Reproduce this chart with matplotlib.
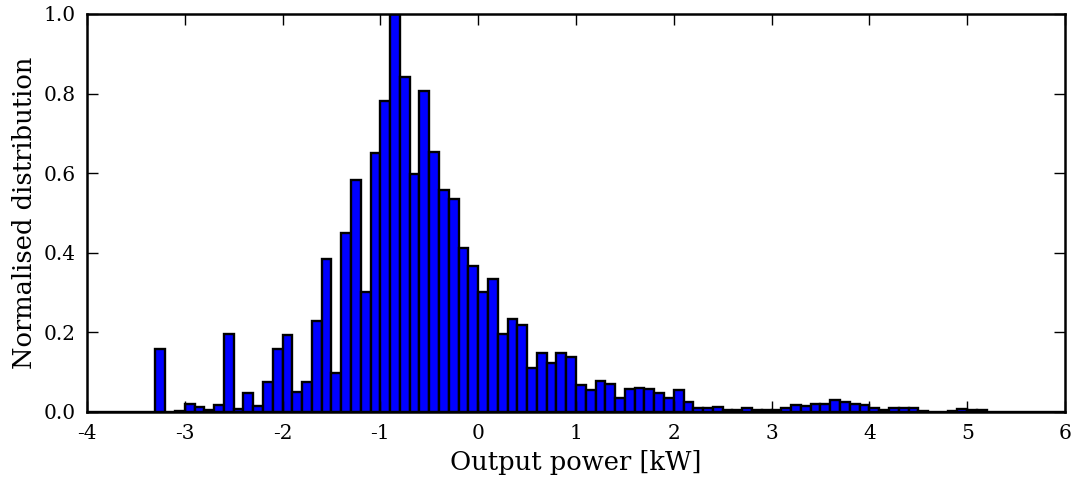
import numpy as np
from matplotlib import pyplot as plt

# histogram bins, 0.1 kW wide, from -4 to 6 kW
bin_edges = np.round(np.arange(-4.0, 6.0, 0.1), 2)
heights = [
    0, 0, 0, 0, 0, 0, 0, 0.157, 0, 0.003,
    0.019, 0.013, 0.006, 0.017, 0.195, 0.008, 0.047, 0.014, 0.075, 0.157,
    0.193, 0.049, 0.075, 0.229, 0.384, 0.099, 0.449, 0.584, 0.301, 0.651,
    0.782, 1.0, 0.842, 0.598, 0.807, 0.654, 0.559, 0.534, 0.413, 0.367,
    0.302, 0.333, 0.195, 0.233, 0.218, 0.111, 0.148, 0.123, 0.147, 0.138,
    0.069, 0.055, 0.077, 0.071, 0.035, 0.057, 0.061, 0.057, 0.048, 0.035,
    0.055, 0.025, 0.011, 0.009, 0.013, 0.004, 0.006, 0.010, 0.006, 0.006,
    0.006, 0.011, 0.017, 0.014, 0.021, 0.021, 0.029, 0.024, 0.021, 0.017,
    0.009, 0.006, 0.010, 0.011, 0.009, 0.003, 0.001, 0.001, 0.003, 0.007,
    0.006, 0.004, 0, 0, 0, 0, 0, 0, 0, 0,
]
xticks = [-4, -3, -2, -1, 0, 1, 2, 3, 4, 5, 6]
yticks = [0.0, 0.2, 0.4, 0.6, 0.8, 1.0]

plt.rcParams['font.family'] = ['DejaVu Serif']
plt.rcParams['axes.unicode_minus'] = False

fig = plt.figure(figsize=(10.75, 4.84), dpi=100)
ax = fig.add_axes([0.0809, 0.1488, 0.9098, 0.8223])
ax.bar(bin_edges, heights, width=0.1, align='edge', color='#0000ff',
       edgecolor='black', linewidth=1.7)

ax.set_xlim(-4, 6)
ax.set_ylim(0, 1.0)
ax.set_xticks(xticks)
ax.set_xticklabels([str(t) for t in xticks])
ax.set_yticks(yticks)
ax.set_yticklabels(['%.1f' % t for t in yticks])
ax.tick_params(direction='in', top=True, right=True, length=8, width=1,
               labelsize=14.5)
ax.tick_params(axis='x', pad=9)
ax.tick_params(axis='y', pad=8)
for s in ax.spines.values():
    s.set_linewidth(1.8)
ax.set_xlabel("Output power [kW]", fontsize=18.5, labelpad=5)
ax.set_ylabel("Normalised distribution", fontsize=18.5, labelpad=5)

plt.savefig("out.png", dpi=100)
